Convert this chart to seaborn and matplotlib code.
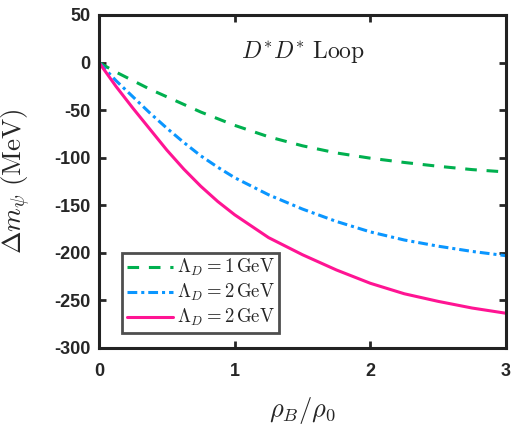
import numpy as np
import pandas as pd
import seaborn as sns
import matplotlib
matplotlib.use("Agg")
import matplotlib.pyplot as plt

# density ratio rho_B / rho_0
rho = [0, 0.125, 0.25, 0.375, 0.5, 0.625, 0.75, 0.875, 1.0,
       1.25, 1.5, 1.75, 2.0, 2.25, 2.5, 2.75, 3.0]
# mass shift (MeV)
dm_1gev = [0, -10, -19, -28, -36, -44, -52, -59, -66,
           -78, -87.5, -95, -100.5, -105, -109, -112.5, -115]
dm_2gev_a = [0, -19, -36, -53, -69, -84, -98, -110, -121,
             -139, -154, -167, -178, -186.5, -193, -198.5, -203]
dm_2gev_b = [0, -25, -48, -70, -92, -112, -130, -146, -160,
             -184, -202, -218, -232, -243, -251, -258, -263.5]
labels = [r"$\Lambda_D = 1\,\mathrm{GeV}$", r"$\Lambda_D = 2\,\mathrm{GeV}$",
          r"$\Lambda_D = 2\,\mathrm{GeV}$"]
colors = ["#00B04F", "#0A96FF", "#FF1493"]
styles = [(0, (3.8, 3.2)), (0, (3.2, 1.3, 1.0, 1.3)), "-"]


def main():
    sns.set_style("ticks")
    plt.rcParams['font.family'] = ['Liberation Sans', 'DejaVu Sans']
    plt.rcParams['mathtext.fontset'] = 'cm'
    plt.rcParams['axes.unicode_minus'] = False

    df = pd.DataFrame({"rho": rho * 3,
                       "dm": dm_1gev + dm_2gev_a + dm_2gev_b,
                       "case": sum([[str(i)] * len(rho) for i in range(3)], [])})

    fig = plt.figure(figsize=(5.19, 4.45), dpi=100)
    ax = fig.add_axes([0.1908, 0.218, 0.7842, 0.7483])
    for i, key in enumerate(df["case"].unique()):
        sub = df[df["case"] == key]
        sns.lineplot(data=sub, x="rho", y="dm", ax=ax, color=colors[i],
                     linewidth=2.2, linestyle=styles[i], label=labels[i])

    ax.set_xlim(0, 3)
    ax.set_ylim(-300, 50)
    ax.set_xticks([0, 1, 2, 3])
    ax.set_yticks(np.arange(-300, 51, 50))
    ax.tick_params(direction="in", top=True, right=True, width=2, length=5,
                   labelsize=13, pad=6)
    ax.tick_params(axis="x", pad=11)
    for lab in ax.get_xticklabels() + ax.get_yticklabels():
        lab.set_fontweight("bold")
    for sp in ax.spines.values():
        sp.set_linewidth(2.2)
        sp.set_color("#222222")

    ax.set_xlabel(r"$\rho_B/\rho_0$", fontsize=19)
    ax.xaxis.set_label_coords(0.5, -0.14)
    ax.set_ylabel(r"$\Delta m_\psi\ (\mathrm{MeV})$", fontsize=19.5)
    ax.yaxis.set_label_coords(-0.162, 0.5)
    ax.text(1.506, 11, r"$D^{*}D^{*}\ \mathrm{Loop}$", fontsize=17,
            ha="center", va="center", color="#222222")

    leg = ax.legend(loc="lower left", bbox_to_anchor=(0.057, 0.045),
                    fontsize=13.5, frameon=True, fancybox=False,
                    handlelength=2.45, handletextpad=0.2, borderpad=0.25,
                    labelspacing=0.2, borderaxespad=0)
    leg.get_frame().set_edgecolor("#222222")
    leg.get_frame().set_linewidth(2)

    plt.savefig("out.png", dpi=100)


if __name__ == "__main__":
    main()
